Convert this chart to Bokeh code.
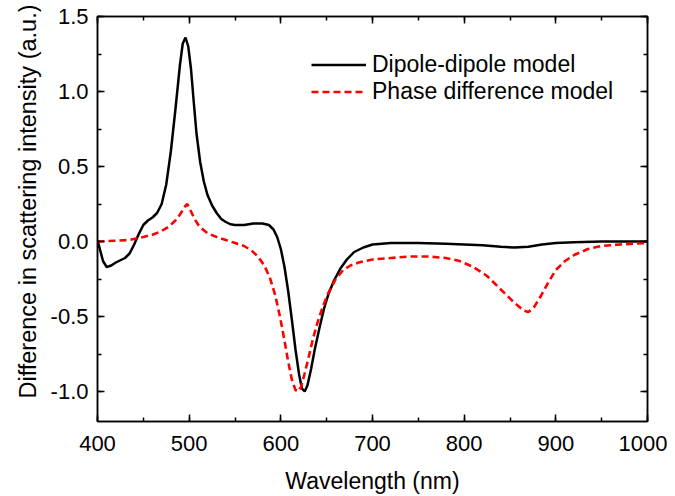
from bokeh.plotting import figure
from bokeh.models import (LinearAxis, SingleIntervalTicker, NumeralTickFormatter,
                          Legend, LegendItem, Range1d, CustomJSTickFormatter, Title)
from bokeh.embed import file_html
from bokeh.resources import INLINE

# ---- data ----
dd_wl = [400, 403, 406, 410, 415, 420, 425, 430, 435, 440, 445, 450, 455, 460, 465,
         470, 475, 480, 485, 490, 493, 496, 499, 502, 505, 508, 512, 516, 520, 525,
         530, 535, 540, 545, 550, 560, 570, 580, 587, 592, 596, 600, 604, 608, 612,
         616, 620, 623, 626, 629, 633, 637, 642, 647, 652, 658, 665, 672, 680, 690,
         700, 720, 750, 780, 800, 820, 840, 855, 870, 885, 900, 920, 950, 1000]
dd_val = [0.01, -0.06, -0.13, -0.17, -0.16, -0.14, -0.125, -0.11, -0.08, -0.02, 0.05,
          0.11, 0.14, 0.16, 0.19, 0.25, 0.38, 0.6, 0.88, 1.18, 1.32, 1.36, 1.3, 1.15,
          0.93, 0.72, 0.53, 0.4, 0.31, 0.24, 0.19, 0.15, 0.13, 0.115, 0.11, 0.11, 0.12,
          0.12, 0.11, 0.08, 0.03, -0.05, -0.17, -0.33, -0.52, -0.72, -0.89, -0.98, -1.0,
          -0.96, -0.85, -0.72, -0.58, -0.45, -0.35, -0.26, -0.18, -0.12, -0.07, -0.04,
          -0.02, -0.01, -0.01, -0.015, -0.02, -0.025, -0.035, -0.04, -0.035, -0.02,
          -0.01, -0.005, 0.0, 0.0]

pd_wl = [400, 420, 435, 450, 460, 470, 478, 485, 490, 495, 498, 502, 506, 510, 515,
         520, 530, 540, 550, 560, 568, 575, 582, 588, 594, 599, 604, 608, 612, 616,
         619, 622, 626, 630, 635, 640, 646, 652, 660, 668, 676, 685, 700, 720, 740,
         760, 780, 795, 810, 825, 840, 855, 865, 870, 876, 884, 892, 900, 910, 920,
         935, 950, 970, 1000]
pd_val = [0.0, 0.005, 0.01, 0.03, 0.045, 0.07, 0.1, 0.14, 0.18, 0.23, 0.25, 0.2, 0.15,
          0.11, 0.08, 0.055, 0.03, 0.01, -0.01, -0.03, -0.06, -0.1, -0.16, -0.24, -0.36,
          -0.5, -0.66, -0.8, -0.92, -0.99, -1.0, -0.97, -0.88, -0.78, -0.65, -0.54,
          -0.43, -0.34, -0.25, -0.19, -0.16, -0.14, -0.12, -0.11, -0.1, -0.1, -0.11,
          -0.13, -0.17, -0.23, -0.32, -0.41, -0.46, -0.47, -0.44, -0.36, -0.27, -0.19,
          -0.13, -0.09, -0.05, -0.03, -0.02, -0.01]

series_names = ["Dipole-dipole model", "Phase difference model"]
x_label = "Wavelength (nm)"
y_label = "Difference in scattering intensity (a.u.)"

FONT = "Liberation Sans"

p = figure(width=667, height=488, output_backend="svg", toolbar_location=None,
           x_range=Range1d(400, 1000), y_range=Range1d(-1.2, 1.5),
           x_axis_type=None, y_axis_type=None,
           min_border_left=97, min_border_right=20, min_border_top=16,
           min_border_bottom=67)
p.frame_width = 550
p.frame_height = 405
p.grid.visible = False
p.outline_line_color = "black"
p.outline_line_width = 1.5
p.background_fill_color = "white"
p.border_fill_color = "white"

def style(ax, labels=True):
    ax.axis_line_color = "black"
    ax.axis_line_width = 1.5
    ax.major_tick_line_color = "black"
    ax.minor_tick_line_color = "black"
    ax.major_tick_line_width = 1.5
    ax.minor_tick_line_width = 1.5
    ax.major_tick_in = 7
    ax.major_tick_out = 0
    ax.minor_tick_in = 4
    ax.minor_tick_out = 0
    ax.major_label_text_font = FONT
    ax.major_label_text_font_size = "22px"
    ax.major_label_text_color = "black"
    ax.axis_label_text_font = FONT
    ax.axis_label_text_font_size = "23px"
    ax.axis_label_text_font_style = "normal"
    ax.axis_label_text_color = "black"
    if not labels:
        ax.formatter = CustomJSTickFormatter(code="return ''")
        ax.major_label_text_font_size = "0px"

xb = LinearAxis(ticker=SingleIntervalTicker(interval=100, num_minor_ticks=2),
                axis_label=x_label)
style(xb)
xb.major_label_standoff = 14
xb.axis_label_standoff = 14
p.add_layout(xb, "below")

yl = LinearAxis(ticker=SingleIntervalTicker(interval=0.5, num_minor_ticks=2),
                formatter=NumeralTickFormatter(format="0.0"))
style(yl)
yl.major_label_standoff = 9
p.add_layout(yl, "left")

# y-axis title, as a left-side title shifted upward like the reference
ytitle = Title(text=y_label, align="right", offset=-12,
               text_font=FONT, text_font_size="23.5px", text_font_style="normal",
               text_color="black", standoff=14)
p.add_layout(ytitle, "left")

xt = LinearAxis(ticker=SingleIntervalTicker(interval=100, num_minor_ticks=2))
style(xt, labels=False)
p.add_layout(xt, "above")

yr = LinearAxis(ticker=SingleIntervalTicker(interval=0.5, num_minor_ticks=2))
style(yr, labels=False)
p.add_layout(yr, "right")

r1 = p.line(dd_wl, dd_val, line_color="black", line_width=2.5)
r2 = p.line(pd_wl, pd_val, line_color="#ff0000", line_width=2.6, line_dash="7 4")

legend = Legend(items=[LegendItem(label=series_names[0], renderers=[r1]),
                       LegendItem(label=series_names[1], renderers=[r2])],
                location=(214, 316), orientation="vertical")
legend.glyph_width = 55
legend.glyph_height = 27
legend.label_height = 27
legend.label_standoff = 6
legend.spacing = 0
legend.padding = 0
legend.margin = 0
legend.border_line_color = None
legend.background_fill_alpha = 0
legend.label_text_font = FONT
legend.label_text_font_size = "23px"
legend.label_text_color = "black"
p.add_layout(legend, "center")

open("out.html", "w").write(file_html(p, INLINE))
